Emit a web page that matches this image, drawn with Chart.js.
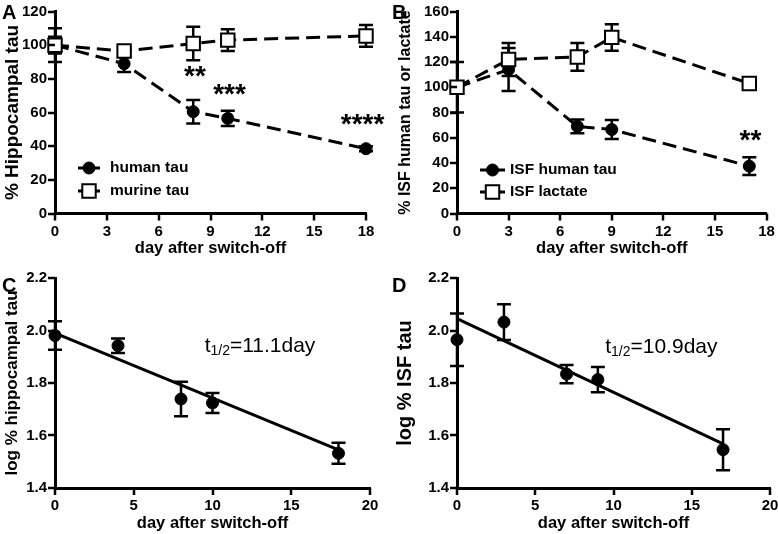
<!DOCTYPE html>
<html>
<head>
<meta charset="utf-8">
<script src="https://cdn.jsdelivr.net/npm/chart.js@4.4.1/dist/chart.umd.min.js"></script>
<style>
  body { margin: 0; background: #fff; }
  #wrap { position: relative; width: 778px; height: 534px; }
  canvas { position: absolute; }
</style>
</head>
<body>
<div id="wrap">
  <canvas id="panelA" width="390" height="262" style="left:0;top:0"></canvas>
  <canvas id="panelB" width="388" height="262" style="left:390px;top:0"></canvas>
  <canvas id="panelC" width="390" height="264" style="left:0;top:270px"></canvas>
  <canvas id="panelD" width="388" height="264" style="left:390px;top:270px"></canvas>
</div>
<script>
// panel A - hippocampal tau
const daysA = [0, 4, 8, 10, 18];
const humanTauA = [100, 89, 60.5, 56.5, 38.5];
const humanTauErrA = [10, 5, 7, 4.5, 1.5];
const murineTauA = [100, 96.5, 101, 103, 105.5];
const murineTauErrA = [5, 2, 10, 6.5, 6.5];
const starsA = [
  { x: 8.1, y: 82, text: "**" },
  { x: 10.1, y: 71.3, text: "***" },
  { x: 17.8, y: 54, text: "****" },
];

// panel B - ISF tau / lactate
const daysB = [0, 3, 7, 9, 17];
const isfTauB = [100, 114, 69, 66.5, 37.5];
const isfTauErrB = [20, 17, 5.5, 7.5, 7];
const lactateB = [100, 122, 124, 139.5, 103];
const lactateErrB = [3, 13, 11, 10.5, 4];
const starsB = [{ x: 17.07, y: 59, text: "**" }];

// panel C - log hippocampal tau + fit
const daysC = [0, 4, 8, 10, 18];
const logTauC = [1.981, 1.942, 1.739, 1.724, 1.532];
const logTauErrC = [0.054, 0.028, 0.066, 0.038, 0.04];
const fitC = [[0, 1.99], [18, 1.545]];

// panel D - log ISF tau + fit
const daysD = [0, 3, 7, 9, 17];
const logTauD = [1.965, 2.032, 1.834, 1.813, 1.546];
const logTauErrD = [0.1, 0.068, 0.035, 0.048, 0.078];
const fitD = [[0, 2.045], [17, 1.568]];

const ticksDays = [0, 18, 3];
const ticksLog = [0, 20, 5];

const FONT = '"Liberation Sans", Arial, sans-serif';
Chart.defaults.font.family = FONT;
Chart.defaults.color = "#000";

const toPoints = (xs, ys) => xs.map((x, i) => ({ x: x, y: ys[i] }));

const decor = {
  id: "decor",
  beforeDatasetsDraw(chart) {
    const ctx = chart.ctx;
    const xs = chart.scales.x;
    const ys = chart.scales.y;
    ctx.save();
    ctx.setLineDash([]);
    ctx.strokeStyle = "#000";
    ctx.lineWidth = 2.5;
    chart.data.datasets.forEach((ds) => {
      if (!ds.errorBars) return;
      ds.data.forEach((p, j) => {
        const e = ds.errorBars[j];
        const x = xs.getPixelForValue(p.x);
        const yt = ys.getPixelForValue(p.y + e);
        const yb = ys.getPixelForValue(p.y - e);
        ctx.beginPath();
        ctx.moveTo(x, yt);
        ctx.lineTo(x, yb);
        ctx.moveTo(x - 7, yt);
        ctx.lineTo(x + 7, yt);
        ctx.moveTo(x - 7, yb);
        ctx.lineTo(x + 7, yb);
        ctx.stroke();
      });
    });
    ctx.restore();
  },
  afterDraw(chart, args, opts) {
    const ctx = chart.ctx;
    const xs = chart.scales.x;
    const ys = chart.scales.y;
    const area = chart.chartArea;
    ctx.save();
    ctx.setLineDash([]);

    // outward tick marks
    ctx.fillStyle = "#000";
    xs.ticks.forEach((t) => {
      const px = Math.round(xs.getPixelForValue(t.value));
      ctx.fillRect(px - 1.25, area.bottom, 2.5, 7);
    });
    ys.ticks.forEach((t) => {
      const py = Math.round(ys.getPixelForValue(t.value));
      ctx.fillRect(area.left - 7, py - 1.25, 7, 2.5);
    });

    ctx.textBaseline = "alphabetic";
    ctx.font = "bold 20px " + FONT;
    ctx.fillText(opts.letter, 2, opts.letterY);

    (opts.stars || []).forEach((s) => {
      ctx.font = "bold 28px " + FONT;
      ctx.textAlign = "center";
      ctx.fillText(s.text, xs.getPixelForValue(s.x), ys.getPixelForValue(s.y) + 10);
    });
    ctx.textAlign = "left";

    if (opts.legend) {
      const lg = opts.legend;
      chart.data.datasets.forEach((ds, i) => {
        const y = lg.y + i * lg.gap;
        ctx.strokeStyle = "#000";
        ctx.lineWidth = 3;
        ctx.beginPath();
        ctx.moveTo(lg.x0, y);
        ctx.lineTo(lg.x1, y);
        ctx.stroke();
        ctx.fillStyle = ds.pointBackgroundColor;
        ctx.lineWidth = ds.pointBorderWidth;
        Chart.helpers.drawPoint(ctx, {
          pointStyle: ds.pointStyle,
          radius: ds.pointRadius,
          borderWidth: ds.pointBorderWidth,
          rotation: 0,
        }, (lg.x0 + lg.x1) / 2, y);
        ctx.fillStyle = "#000";
        ctx.font = "bold 15.5px " + FONT;
        ctx.textBaseline = "middle";
        ctx.fillText(ds.label, lg.tx, y);
        ctx.textBaseline = "alphabetic";
      });
    }

    if (opts.note) {
      const n = opts.note;
      let x = xs.getPixelForValue(n.x);
      const y = ys.getPixelForValue(n.y);
      ctx.fillStyle = "#000";
      ctx.font = "21px " + FONT;
      ctx.fillText("t", x, y);
      x += ctx.measureText("t").width;
      ctx.font = "14px " + FONT;
      ctx.fillText("1/2", x, y + 3);
      x += ctx.measureText("1/2").width;
      ctx.font = "21px " + FONT;
      ctx.fillText("=" + n.value + "day", x, y);
    }
    ctx.restore();
  },
};

function lineSeries(label, xs, ys, errs, marker) {
  const open = marker === "rect";
  return {
    label: label,
    data: toPoints(xs, ys),
    errorBars: errs,
    borderColor: "#000",
    borderWidth: 3,
    borderDash: [14, 7],
    pointStyle: marker,
    pointRadius: open ? 9.5 : 6,
    pointHoverRadius: open ? 9.5 : 6,
    pointBackgroundColor: open ? "#fff" : "#000",
    pointBorderColor: "#000",
    pointBorderWidth: open ? 2 : 1,
    tension: 0,
    clip: false,
    order: open ? 0 : 1,
  };
}

function fitLine(points) {
  return {
    label: "fit",
    data: points.map((p) => ({ x: p[0], y: p[1] })),
    borderColor: "#000",
    borderWidth: 3,
    pointRadius: 0,
    clip: false,
  };
}

function makePanel(id, cfg) {
  const ctx = document.getElementById(id).getContext("2d");
  return new Chart(ctx, {
    type: "line",
    data: { datasets: cfg.datasets },
    plugins: [decor],
    options: {
      responsive: false,
      animation: false,
      events: [],
      layout: { padding: cfg.padding },
      scales: {
        x: {
          type: "linear",
          min: cfg.xTicks[0],
          max: cfg.xTicks[1],
          ticks: {
            stepSize: cfg.xTicks[2],
            color: "#000",
            font: { size: 15, weight: "bold" },
            padding: 9,
          },
          grid: { display: false, drawTicks: false },
          border: { display: true, color: "#000", width: 3 },
          title: {
            display: true,
            text: "day after switch-off",
            color: "#000",
            font: { size: 16.5, weight: "bold" },
            padding: { top: 0, bottom: cfg.titlePad },
          },
          afterFit: (s) => {
            s.height = cfg.xHeight;
            s.paddingLeft = 0;
            s.paddingRight = 0;
          },
        },
        y: {
          min: cfg.yTicks[0],
          max: cfg.yTicks[1],
          ticks: {
            stepSize: cfg.yTicks[2],
            color: "#000",
            font: { size: 15, weight: "bold" },
            padding: 8,
            callback: cfg.yFormat,
          },
          grid: { display: false, drawTicks: false },
          border: { display: true, color: "#000", width: 3 },
          title: {
            display: true,
            text: cfg.yTitle,
            color: "#000",
            font: { size: cfg.yTitleSize, weight: "bold" },
            padding: { top: cfg.yTitlePad, bottom: 0 },
          },
          afterFit: (s) => {
            s.width = cfg.yWidth;
            s.paddingTop = 0;
            s.paddingBottom = 0;
          },
        },
      },
      plugins: {
        legend: { display: false },
        tooltip: { enabled: false },
        decor: cfg.decor,
      },
    },
  });
}

const intFmt = (v) => v;
const oneDec = (v) => v.toFixed(1);

makePanel("panelA", {
  datasets: [
    lineSeries("human tau", daysA, humanTauA, humanTauErrA, "circle"),
    lineSeries("murine tau", daysA, murineTauA, murineTauErrA, "rect"),
  ],
  padding: { top: 6, right: 24, bottom: 0, left: 0 },
  xTicks: ticksDays,
  yTicks: [0, 120, 20],
  yFormat: intFmt,
  yTitle: "% Hippocampal tau",
  yTitleSize: 19,
  yTitlePad: 1,
  yWidth: 55,
  xHeight: 48.5,
  titlePad: 4,
  decor: { letter: "A", letterY: 19, stars: starsA, legend: { x0: 78, x1: 100, tx: 110, y: 168, gap: 23 } },
});

makePanel("panelB", {
  datasets: [
    lineSeries("ISF human tau", daysB, isfTauB, isfTauErrB, "circle"),
    lineSeries("ISF lactate", daysB, lactateB, lactateErrB, "rect"),
  ],
  padding: { top: 6, right: 10, bottom: 0, left: 0 },
  xTicks: ticksDays,
  yTicks: [0, 160, 20],
  yFormat: intFmt,
  yTitle: "% ISF human tau or lactate",
  yTitleSize: 16,
  yTitlePad: 6,
  yWidth: 67,
  xHeight: 48.5,
  titlePad: 4,
  decor: { letter: "B", letterY: 19, stars: starsB, legend: { x0: 90, x1: 115, tx: 120, y: 170, gap: 22 } },
});

makePanel("panelC", {
  datasets: [
    Object.assign(lineSeries("hippocampal tau", daysC, logTauC, logTauErrC, "circle"), { showLine: false }),
    fitLine(fitC),
  ],
  padding: { top: 8, right: 20, bottom: 0, left: 0 },
  xTicks: ticksLog,
  yTicks: [1.4, 2.2, 0.2],
  yFormat: oneDec,
  yTitle: "log % hippocampal tau",
  yTitleSize: 17,
  yTitlePad: 2,
  yWidth: 55,
  xHeight: 46,
  titlePad: 1,
  decor: { letter: "C", letterY: 22, note: { x: 9.5, y: 1.92, value: "11.1" } },
});

makePanel("panelD", {
  datasets: [
    Object.assign(lineSeries("ISF tau", daysD, logTauD, logTauErrD, "circle"), { showLine: false }),
    fitLine(fitD),
  ],
  padding: { top: 8, right: 8, bottom: 0, left: 0 },
  xTicks: ticksLog,
  yTicks: [1.4, 2.2, 0.2],
  yFormat: oneDec,
  yTitle: "log % ISF tau",
  yTitleSize: 20,
  yTitlePad: 3,
  yWidth: 67,
  xHeight: 46,
  titlePad: 1,
  decor: { letter: "D", letterY: 22, note: { x: 9.47, y: 1.915, value: "10.9" } },
});
</script>
</body>
</html>
